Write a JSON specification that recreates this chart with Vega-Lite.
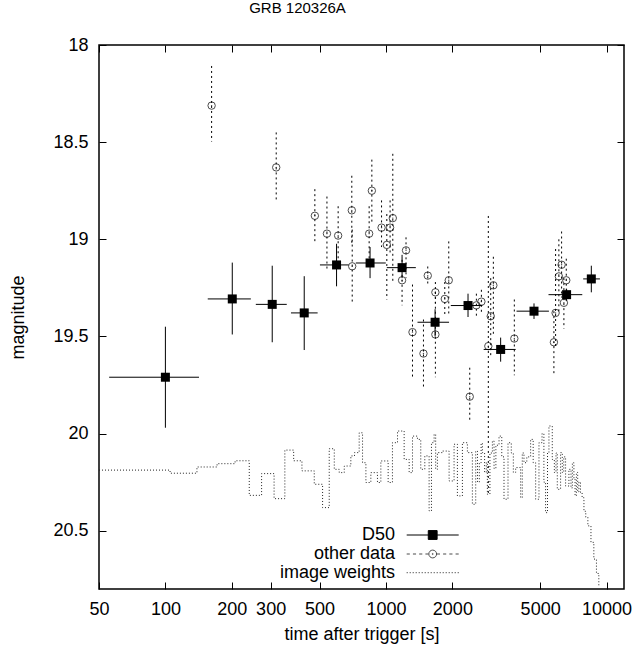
{
  "$schema": "https://vega.github.io/schema/vega-lite/v6.json",
  "width": 525,
  "height": 544,
  "autosize": {"type": "none"},
  "padding": {"left": 99, "top": 45, "right": 11, "bottom": 59},
  "background": "white",
  "title": {"text": "GRB 120326A", "anchor": "middle", "dx": -64, "offset": 20, "fontSize": 15, "font": "Liberation Sans", "fontWeight": "normal", "color": "black"},
  "config": {
    "view": {"stroke": "black", "strokeWidth": 1.5},
    "axis": {"domain": false, "grid": false, "tickSize": -7, "tickColor": "black", "tickWidth": 1, "labelFont": "Liberation Sans", "labelFontSize": 18, "labelColor": "black", "titleFont": "Liberation Sans", "titleFontSize": 18, "titleFontWeight": "normal", "titleColor": "black", "labelFlush": false, "labelOverlap": false},
    "legend": {"orient": "none", "title": null, "padding": 0, "offset": 0, "symbolSize": 2704, "symbolStrokeWidth": 1, "labelAlign": "right", "labelOffset": -64.2, "labelFont": "Liberation Sans", "labelFontSize": 18, "labelColor": "black", "labelLimit": 300}
  },
  "datasets": {
    "d50": [
      {"t": 100, "m": 19.71, "tlo": 55.6, "thi": 142, "mlo": 19.45, "mhi": 19.97},
      {"t": 201, "m": 19.307, "tlo": 155.6, "thi": 244, "mlo": 19.12, "mhi": 19.49},
      {"t": 305, "m": 19.335, "tlo": 257, "thi": 355, "mlo": 19.136, "mhi": 19.53},
      {"t": 426, "m": 19.379, "tlo": 371, "thi": 490, "mlo": 19.19, "mhi": 19.57},
      {"t": 597, "m": 19.132, "tlo": 502, "thi": 678, "mlo": 19.023, "mhi": 19.242},
      {"t": 847, "m": 19.122, "tlo": 730, "thi": 998, "mlo": 19.04, "mhi": 19.2},
      {"t": 1183, "m": 19.146, "tlo": 1009, "thi": 1366, "mlo": 19.09, "mhi": 19.2},
      {"t": 1670, "m": 19.427, "tlo": 1390, "thi": 1932, "mlo": 19.36, "mhi": 19.5},
      {"t": 2355, "m": 19.341, "tlo": 1968, "thi": 2735, "mlo": 19.28, "mhi": 19.4},
      {"t": 3311, "m": 19.567, "tlo": 2773, "thi": 3873, "mlo": 19.506, "mhi": 19.63},
      {"t": 4690, "m": 19.37, "tlo": 3908, "thi": 5480, "mlo": 19.33, "mhi": 19.41},
      {"t": 6590, "m": 19.285, "tlo": 5457, "thi": 7763, "mlo": 19.255, "mhi": 19.315},
      {"t": 8531, "m": 19.204, "tlo": 7838, "thi": 9333, "mlo": 19.136, "mhi": 19.273}
    ],
    "other": [
      {"t": 162, "m": 18.312, "lo": 18.108, "hi": 18.497},
      {"t": 318, "m": 18.63, "lo": 18.45, "hi": 18.8},
      {"t": 476, "m": 18.879, "lo": 18.742, "hi": 19.019},
      {"t": 540, "m": 18.971, "lo": 18.78, "hi": 19.16},
      {"t": 607, "m": 18.981, "lo": 18.83, "hi": 19.15},
      {"t": 700, "m": 18.851, "lo": 18.673, "hi": 19.03},
      {"t": 703, "m": 19.139, "lo": 18.95, "hi": 19.33},
      {"t": 863, "m": 18.75, "lo": 18.59, "hi": 18.91},
      {"t": 839, "m": 18.971, "lo": 18.83, "hi": 19.13},
      {"t": 955, "m": 18.94, "lo": 18.8, "hi": 19.04},
      {"t": 1009, "m": 19.029, "lo": 18.87, "hi": 19.31},
      {"t": 1044, "m": 18.94, "lo": 18.8, "hi": 19.08},
      {"t": 1074, "m": 18.891, "lo": 18.56, "hi": 19.22},
      {"t": 1183, "m": 19.211, "lo": 19.08, "hi": 19.34},
      {"t": 1233, "m": 19.057, "lo": 18.99, "hi": 19.2},
      {"t": 1319, "m": 19.478, "lo": 19.233, "hi": 19.718},
      {"t": 1479, "m": 19.588, "lo": 19.413, "hi": 19.759},
      {"t": 1547, "m": 19.187, "lo": 19.14, "hi": 19.24},
      {"t": 1675, "m": 19.273, "lo": 19.22, "hi": 19.33},
      {"t": 1675, "m": 19.49, "lo": 19.27, "hi": 19.71},
      {"t": 1848, "m": 19.307, "lo": 19.22, "hi": 19.4},
      {"t": 1926, "m": 19.211, "lo": 19.011, "hi": 19.396},
      {"t": 2398, "m": 19.81, "lo": 19.661, "hi": 19.944},
      {"t": 2570, "m": 19.34, "lo": 19.28, "hi": 19.4},
      {"t": 2708, "m": 19.321, "lo": 19.26, "hi": 19.38},
      {"t": 2911, "m": 19.55, "lo": 18.88, "hi": 20.32},
      {"t": 2985, "m": 19.396, "lo": 19.2, "hi": 19.6},
      {"t": 3068, "m": 19.237, "lo": 19.09, "hi": 19.5},
      {"t": 3819, "m": 19.511, "lo": 19.31, "hi": 19.7},
      {"t": 5772, "m": 19.53, "lo": 19.37, "hi": 19.69},
      {"t": 5876, "m": 19.379, "lo": 19.05, "hi": 19.55},
      {"t": 6080, "m": 19.191, "lo": 19.0, "hi": 19.38},
      {"t": 6256, "m": 19.131, "lo": 18.96, "hi": 19.3},
      {"t": 6568, "m": 19.211, "lo": 19.1, "hi": 19.32},
      {"t": 6408, "m": 19.327, "lo": 19.2, "hi": 19.46}
    ],
    "weights": [
      {"t": 50, "m": 20.188}, {"t": 105, "m": 20.204}, {"t": 139, "m": 20.172}, {"t": 171.5, "m": 20.155},
      {"t": 207, "m": 20.14}, {"t": 240, "m": 20.318}, {"t": 273, "m": 20.206}, {"t": 311, "m": 20.335},
      {"t": 348, "m": 20.085}, {"t": 381.5, "m": 20.14}, {"t": 416, "m": 20.192}, {"t": 473, "m": 20.261},
      {"t": 516, "m": 20.381}, {"t": 553, "m": 20.078}, {"t": 583, "m": 20.184}, {"t": 614, "m": 20.201},
      {"t": 647, "m": 20.167}, {"t": 693, "m": 20.115}, {"t": 720, "m": 20.098}, {"t": 756, "m": 19.996},
      {"t": 783, "m": 20.15}, {"t": 811, "m": 20.252}, {"t": 854, "m": 20.201}, {"t": 915, "m": 20.252},
      {"t": 948, "m": 20.141}, {"t": 1023, "m": 20.252}, {"t": 1070, "m": 20.047}, {"t": 1128, "m": 19.987},
      {"t": 1209, "m": 20.133}, {"t": 1274, "m": 20.201}, {"t": 1319, "m": 20.013}, {"t": 1389, "m": 20.03},
      {"t": 1438, "m": 20.184}, {"t": 1500, "m": 20.115}, {"t": 1569, "m": 20.398}, {"t": 1608, "m": 20.047},
      {"t": 1653, "m": 20.004}, {"t": 1680, "m": 20.184}, {"t": 1711, "m": 20.098}, {"t": 1803, "m": 20.09},
      {"t": 1933, "m": 20.244}, {"t": 2036, "m": 20.055}, {"t": 2108, "m": 20.321}, {"t": 2221, "m": 20.047},
      {"t": 2340, "m": 20.098}, {"t": 2465, "m": 20.364}, {"t": 2552, "m": 20.09}, {"t": 2600, "m": 20.25},
      {"t": 2650, "m": 20.15}, {"t": 2700, "m": 20.05}, {"t": 2736, "m": 20.098}, {"t": 2800, "m": 20.2},
      {"t": 2850, "m": 20.15}, {"t": 2882, "m": 20.312}, {"t": 2960, "m": 20.1}, {"t": 3037, "m": 20.038},
      {"t": 3090, "m": 20.18}, {"t": 3150, "m": 20.06}, {"t": 3255, "m": 20.013}, {"t": 3350, "m": 20.12},
      {"t": 3429, "m": 20.338}, {"t": 3575, "m": 20.047}, {"t": 3700, "m": 20.1}, {"t": 3780, "m": 20.2},
      {"t": 3873, "m": 20.175}, {"t": 4080, "m": 20.33}, {"t": 4150, "m": 20.1}, {"t": 4224, "m": 20.15},
      {"t": 4350, "m": 20.12}, {"t": 4528, "m": 20.03}, {"t": 4650, "m": 20.15}, {"t": 4771, "m": 20.338},
      {"t": 4940, "m": 20.047}, {"t": 5100, "m": 20.0}, {"t": 5200, "m": 20.25}, {"t": 5293, "m": 20.407},
      {"t": 5400, "m": 20.1}, {"t": 5482, "m": 19.961}, {"t": 5675, "m": 20.133}, {"t": 5800, "m": 20.2},
      {"t": 5900, "m": 20.1}, {"t": 5980, "m": 20.287}, {"t": 6190, "m": 20.098}, {"t": 6300, "m": 20.2},
      {"t": 6400, "m": 20.12}, {"t": 6522, "m": 20.27}, {"t": 6752, "m": 20.184}, {"t": 6900, "m": 20.28},
      {"t": 7000, "m": 20.15}, {"t": 7114, "m": 20.235}, {"t": 7200, "m": 20.32}, {"t": 7300, "m": 20.2},
      {"t": 7400, "m": 20.3}, {"t": 7496, "m": 20.25}, {"t": 7620, "m": 20.304}, {"t": 7750, "m": 20.33},
      {"t": 7899, "m": 20.4}, {"t": 8050, "m": 20.43}, {"t": 8229, "m": 20.475}, {"t": 8500, "m": 20.56},
      {"t": 8758, "m": 20.646}, {"t": 9000, "m": 20.72}, {"t": 9226, "m": 20.784}
    ]
  },
  "layer": [
    {
      "data": {"name": "weights"},
      "mark": {"type": "line", "interpolate": "step-after", "stroke": "#222", "strokeWidth": 1},
      "encoding": {
        "x": {"field": "t", "type": "quantitative", "scale": {"type": "log", "domain": [50, 12000], "nice": false},
              "axis": {"orient": "bottom", "values": [50, 100, 200, 300, 500, 1000, 2000, 5000, 10000], "format": "d", "labelPadding": 18.5, "titlePadding": 7}, "title": "time after trigger [s]"},
        "y": {"field": "m", "type": "quantitative", "scale": {"domain": [18, 20.8], "reverse": true, "nice": false, "zero": false},
              "axis": {"orient": "left", "values": [18, 18.5, 19, 19.5, 20, 20.5], "format": "~g", "labelPadding": 18, "titlePadding": 25}, "title": "magnitude"},
        "strokeDash": {"datum": "image weights", "scale": {"range": [[1, 2]]},
                       "legend": {"legendX": 307.2, "legendY": 501.2, "symbolType": "stroke"}}
      }
    },
    {
      "data": {"name": "other"},
      "mark": {"type": "rule", "stroke": "black", "strokeWidth": 1, "strokeDash": [2, 3]},
      "encoding": {
        "x": {"field": "t", "type": "quantitative", "scale": {"type": "log", "domain": [50, 12000], "nice": false}, "axis": null},
        "y": {"field": "lo", "type": "quantitative", "scale": {"domain": [18, 20.8], "reverse": true, "nice": false, "zero": false}, "axis": null},
        "y2": {"field": "hi"}
      }
    },
    {
      "data": {"name": "other"},
      "mark": {"type": "point", "shape": "circle", "filled": false, "size": 55, "strokeWidth": 1},
      "encoding": {
        "x": {"field": "t", "type": "quantitative", "scale": {"type": "log", "domain": [50, 12000], "nice": false}, "axis": null},
        "y": {"field": "m", "type": "quantitative", "scale": {"domain": [18, 20.8], "reverse": true, "nice": false, "zero": false}, "axis": null},
        "stroke": {"datum": "other data", "scale": {"range": ["black"]},
                   "legend": {"legendX": 307.2, "legendY": 482.5,
                              "symbolType": "M-1,0H-0.88M-0.76,0H-0.64M-0.52,0H-0.4M-0.28,0H-0.16M0.16,0H0.28M0.4,0H0.52M0.64,0H0.76M0.88,0H1M0.15,0A0.15,0.15,0,1,1,-0.15,0A0.15,0.15,0,1,1,0.15,0ZM0.02,0A0.02,0.02,0,1,1,-0.02,0A0.02,0.02,0,1,1,0.02,0Z",
                              "symbolFillColor": "transparent",
                              "encode": {"symbols": {"fill": {"value": "transparent"}, "stroke": {"value": "black"}, "strokeWidth": {"value": 1}}}}}
      }
    },
    {
      "data": {"name": "other"},
      "mark": {"type": "point", "shape": "circle", "filled": true, "size": 2, "color": "black"},
      "encoding": {
        "x": {"field": "t", "type": "quantitative", "scale": {"type": "log", "domain": [50, 12000], "nice": false}, "axis": null},
        "y": {"field": "m", "type": "quantitative", "scale": {"domain": [18, 20.8], "reverse": true, "nice": false, "zero": false}, "axis": null}
      }
    },
    {
      "data": {"name": "d50"},
      "mark": {"type": "rule", "stroke": "black", "strokeWidth": 1},
      "encoding": {
        "x": {"field": "tlo", "type": "quantitative", "scale": {"type": "log", "domain": [50, 12000], "nice": false}, "axis": null},
        "x2": {"field": "thi"},
        "y": {"field": "m", "type": "quantitative", "scale": {"domain": [18, 20.8], "reverse": true, "nice": false, "zero": false}, "axis": null}
      }
    },
    {
      "data": {"name": "d50"},
      "mark": {"type": "rule", "stroke": "black", "strokeWidth": 1},
      "encoding": {
        "x": {"field": "t", "type": "quantitative", "scale": {"type": "log", "domain": [50, 12000], "nice": false}, "axis": null},
        "y": {"field": "mlo", "type": "quantitative", "scale": {"domain": [18, 20.8], "reverse": true, "nice": false, "zero": false}, "axis": null},
        "y2": {"field": "mhi"}
      }
    },
    {
      "data": {"name": "d50"},
      "mark": {"type": "point", "shape": "square", "filled": true, "size": 81, "opacity": 1},
      "encoding": {
        "x": {"field": "t", "type": "quantitative", "scale": {"type": "log", "domain": [50, 12000], "nice": false},
              "axis": {"orient": "top", "values": [50, 100, 200, 300, 500, 1000, 2000, 5000, 10000], "labels": false, "title": null}},
        "y": {"field": "m", "type": "quantitative", "scale": {"domain": [18, 20.8], "reverse": true, "nice": false, "zero": false},
              "axis": {"orient": "right", "values": [18, 18.5, 19, 19.5, 20, 20.5], "labels": false, "title": null}},
        "fill": {"datum": "D50", "scale": {"range": ["black"]},
                 "legend": {"legendX": 307.2, "legendY": 463.5,
                            "symbolType": "M-1,0H1M-0.17,-0.17H0.17V0.17H-0.17Z",
                            "symbolStrokeColor": "black",
                            "encode": {"symbols": {"stroke": {"value": "black"}, "strokeWidth": {"value": 1}}}}}
      }
    }
  ],
  "resolve": {"axis": {"x": "independent", "y": "independent"}}
}
